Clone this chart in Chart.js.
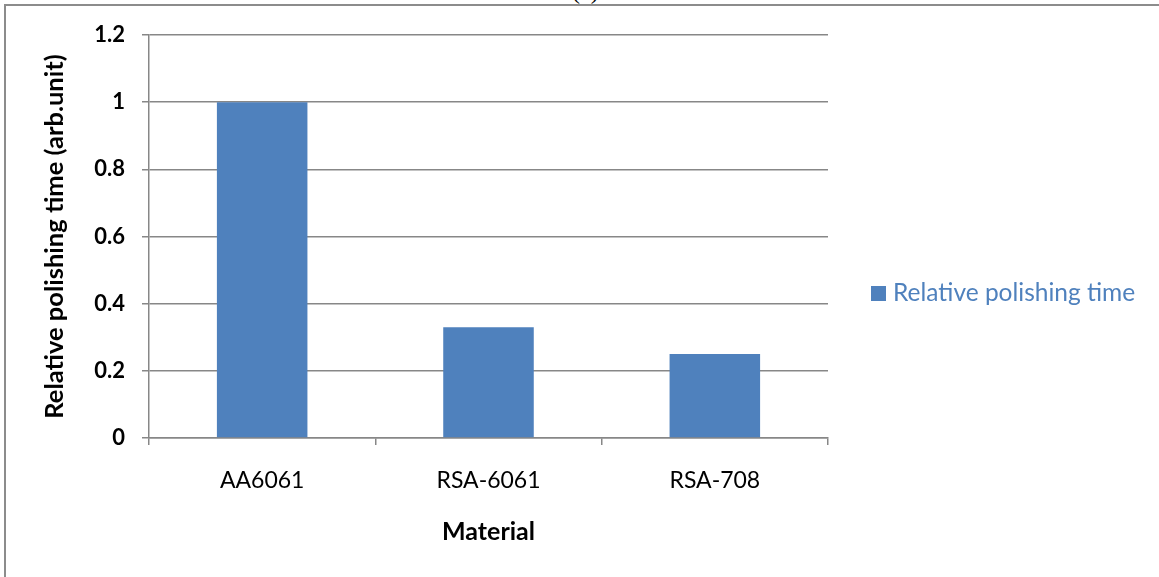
<!DOCTYPE html>
<html lang="en">
<head>
    <meta charset="UTF-8">
    <title>Relative polishing time</title>
    <style>
        html, body { margin: 0; padding: 0; background: #fff; overflow: hidden; }
        #wrap { position: relative; width: 1159px; height: 577px; }
        #chart { position: absolute; left: 0; top: 0; }
        .frame-top { position: absolute; left: 5px; top: 4px; width: 1154px; height: 2px; background: #8c8c8c; }
        .frame-left { position: absolute; left: 4px; top: 4px; width: 2px; height: 573px; background: #8c8c8c; }
        .caption { position: absolute; left: 572px; top: -21px; font: 24px "Liberation Serif", serif; line-height: 24px; color: #000; }
        .legend-box { position: absolute; left: 871px; top: 286px; width: 15px; height: 15px; background: #4F81BD; }
        .legend-text { position: absolute; left: 893px; top: 280px; font: 24.5px Lato, sans-serif; line-height: 1; color: #4F81BD; white-space: nowrap; }
    </style>
</head>
<body>
    <div id="wrap">
        <div class="caption">(a)</div>
        <canvas id="chart" width="1159" height="577"></canvas>
        <div class="frame-top"></div>
        <div class="frame-left"></div>
        <div class="legend-box"></div>
        <div class="legend-text">Relative polishing time</div>
    </div>

    <script src="https://cdn.jsdelivr.net/npm/chart.js"></script>
    <script>
        const materials = ['AA6061', 'RSA-6061', 'RSA-708'];
        const polishTime = [1.0, 0.33, 0.25];
        const yTickLabels = ['0', '0.2', '0.4', '0.6', '0.8', '1', '1.2'];

        const gridGray = '#878787';

        new Chart(document.getElementById('chart'), {
            type: 'bar',
            data: {
                labels: materials,
                datasets: [{
                    label: 'Relative polishing time',
                    data: polishTime,
                    backgroundColor: '#4F81BD',
                    barPercentage: 0.4,
                    categoryPercentage: 1.0
                }]
            },
            options: {
                responsive: false,
                animation: false,
                layout: { padding: { left: 0, top: 35, right: 331, bottom: 0 } },
                plugins: {
                    legend: { display: false },
                    tooltip: { enabled: false }
                },
                scales: {
                    x: {
                        afterFit: (axis) => { axis.height = 139; },
                        grid: {
                            drawOnChartArea: false,
                            drawTicks: true,
                            tickLength: 7,
                            color: gridGray,
                            lineWidth: 1.5
                        },
                        border: { color: gridGray, width: 1.5 },
                        ticks: {
                            color: '#000',
                            padding: 22,
                            font: { family: 'Lato', size: 23 }
                        },
                        title: {
                            display: true,
                            text: 'Material',
                            color: '#000',
                            font: { family: 'Lato', size: 25, weight: 'bold' },
                            padding: { top: 0, bottom: 30 }
                        }
                    },
                    y: {
                        min: 0,
                        max: 1.2,
                        afterFit: (axis) => { axis.width = 149; },
                        grid: {
                            color: gridGray,
                            lineWidth: 1.5,
                            tickLength: 7
                        },
                        border: { color: gridGray, width: 1.5 },
                        ticks: {
                            stepSize: 0.2,
                            color: '#000',
                            padding: 17,
                            font: { family: 'Lato', size: 22, weight: 'bold' },
                            callback: (value, index) => yTickLabels[index]
                        },
                        title: {
                            display: true,
                            text: 'Relative polishing time (arb.unit)',
                            color: '#000',
                            font: { family: 'Lato', size: 25.5, weight: 'bold' },
                            padding: { top: 39, bottom: 0 }
                        }
                    }
                }
            }
        });
    </script>
</body>
</html>
